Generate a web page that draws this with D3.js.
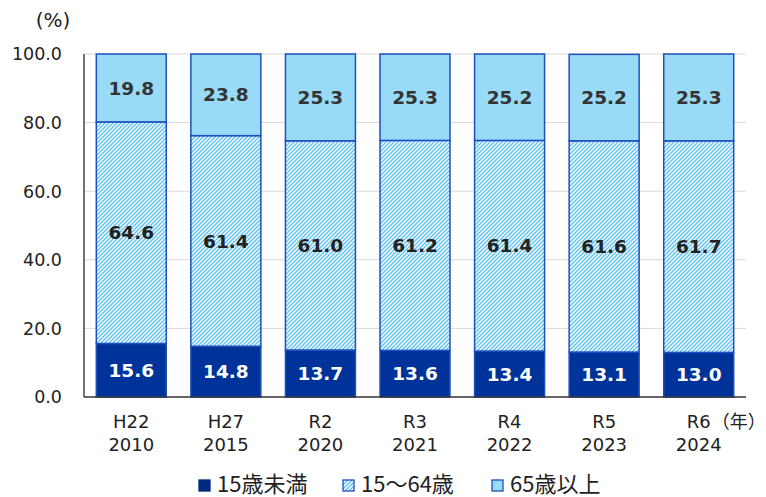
<!DOCTYPE html>
<html><head><meta charset="utf-8">
<script src="https://cdn.jsdelivr.net/npm/d3@7"></script>
<style>body{margin:0;background:#fff}svg{display:block}</style>
</head><body>
<svg id="c" width="766" height="497"></svg>
<script>
const eraLabels = ["H22","H27","R2","R3","R4","R5","R6"];
const yearLabels = ["2010","2015","2020","2021","2022","2023","2024"];
const under15 = [15.6,14.8,13.7,13.6,13.4,13.1,13.0];
const age15to64 = [64.6,61.4,61.0,61.2,61.4,61.6,61.7];
const over65 = [19.8,23.8,25.3,25.3,25.2,25.2,25.3];
const seriesNames = ["15歳未満","15〜64歳","65歳以上"];
const yTicks = [0,20,40,60,80,100];

const rows = yearLabels.map((y,i)=>({year:y, a:under15[i], b:age15to64[i], c:over65[i]}));
const keys = ["a","b","c"];
const stack = d3.stack().keys(keys)(rows);

const svg = d3.select("#c");
const m = {l:84};
const x = d3.scaleBand().domain(yearLabels).range([m.l, 746]).paddingInner(0.26).paddingOuter(0.13);
const y = d3.scaleLinear().domain([0,100]).range([397,54]).clamp(true);

const defs = svg.append("defs");
const pat = defs.append("pattern").attr("id","hatch").attr("patternUnits","userSpaceOnUse")
  .attr("width",4).attr("height",4);
pat.append("rect").attr("width",4).attr("height",4).attr("fill","#fff");
pat.append("path").attr("d","M-1,1 l2,-2 M0,4 l4,-4 M3,5 l2,-2").attr("stroke","#5cc2f2").attr("stroke-width",1.4);

// gridlines
svg.append("g").selectAll("line").data(yTicks.filter(d=>d>0)).join("line")
  .attr("x1",m.l).attr("x2",746).attr("y1",d=>y(d)).attr("y2",d=>y(d))
  .attr("stroke","#d9d9d9").attr("stroke-width",1);

// y tick labels
svg.append("g").selectAll("text").data(yTicks).join("text")
  .attr("x",62).attr("y",d=>y(d)).attr("dy","0.36em").attr("text-anchor","end")
  .attr("font-family","DejaVu Sans, sans-serif").attr("font-size",17.5).attr("fill","#222")
  .text(d=>d.toFixed(1));
svg.append("text").attr("x",53).attr("y",27).attr("text-anchor","middle")
  .attr("font-family","DejaVu Sans, sans-serif").attr("font-size",20).attr("fill","#222").text("(%)");

const fills = {a:"#003399", b:"url(#hatch)", c:"#99dbf7"};
const textFill = {a:"#fff", b:"#222", c:"#333"};

stack.forEach(s=>{
  const g = svg.append("g");
  g.selectAll("rect").data(s).join("rect")
    .attr("x",d=>x(d.data.year)).attr("width",x.bandwidth())
    .attr("y",d=>y(d[1])).attr("height",d=>y(d[0])-y(d[1]))
    .attr("fill",fills[s.key]).attr("stroke","#1f4fbf").attr("stroke-width",1.5);
  g.selectAll("text").data(s).join("text")
    .attr("x",d=>x(d.data.year)+x.bandwidth()/2)
    .attr("y",d=>(y(d[0])+y(d[1]))/2).attr("dy","0.36em")
    .attr("text-anchor","middle").attr("font-family","DejaVu Sans, sans-serif")
    .attr("font-weight","bold").attr("font-size",18.5).attr("fill",textFill[s.key])
    .text(d=>d.data[s.key].toFixed(1));
});

// axes lines
svg.append("line").attr("x1",m.l).attr("x2",m.l).attr("y1",54).attr("y2",397).attr("stroke","#444").attr("stroke-width",1.5);
svg.append("line").attr("x1",m.l).attr("x2",746).attr("y1",397).attr("y2",397).attr("stroke","#333").attr("stroke-width",1.3);

// x labels
const xl = svg.append("g").attr("font-family","DejaVu Sans, sans-serif").attr("font-size",18).attr("fill","#222");
xl.selectAll("text.era").data(eraLabels).join("text").attr("class","era")
  .attr("x",(d,i)=>x(yearLabels[i])+x.bandwidth()/2).attr("y",428).attr("text-anchor","middle").text(d=>d);
xl.selectAll("text.yr").data(yearLabels).join("text").attr("class","yr")
  .attr("x",d=>x(d)+x.bandwidth()/2).attr("y",451).attr("text-anchor","middle").text(d=>d);
xl.append("text").attr("x",x(yearLabels[6])+x.bandwidth()/2+13).attr("y",428)
  .attr("font-family","Noto Sans CJK JP, sans-serif").attr("font-size",18).text("（年）");

// legend
const leg = svg.append("g").attr("font-family","Noto Sans CJK JP, sans-serif").attr("font-size",22).attr("fill","#222");
const legX = [199, 343, 492];
const legFill = ["#002a80","url(#hatch)","#99dbf7"];
const legStroke = ["#002a80","#1f4fbf","#1f4fbf"];
seriesNames.forEach((n,i)=>{
  leg.append("rect").attr("x",legX[i]).attr("y",480).attr("width",11).attr("height",11)
    .attr("fill",legFill[i]).attr("stroke",legStroke[i]).attr("stroke-width",1.3);
  leg.append("text").attr("x",legX[i]+18).attr("y",484).attr("dy","0.36em").text(n);
});
</script>
</body></html>
